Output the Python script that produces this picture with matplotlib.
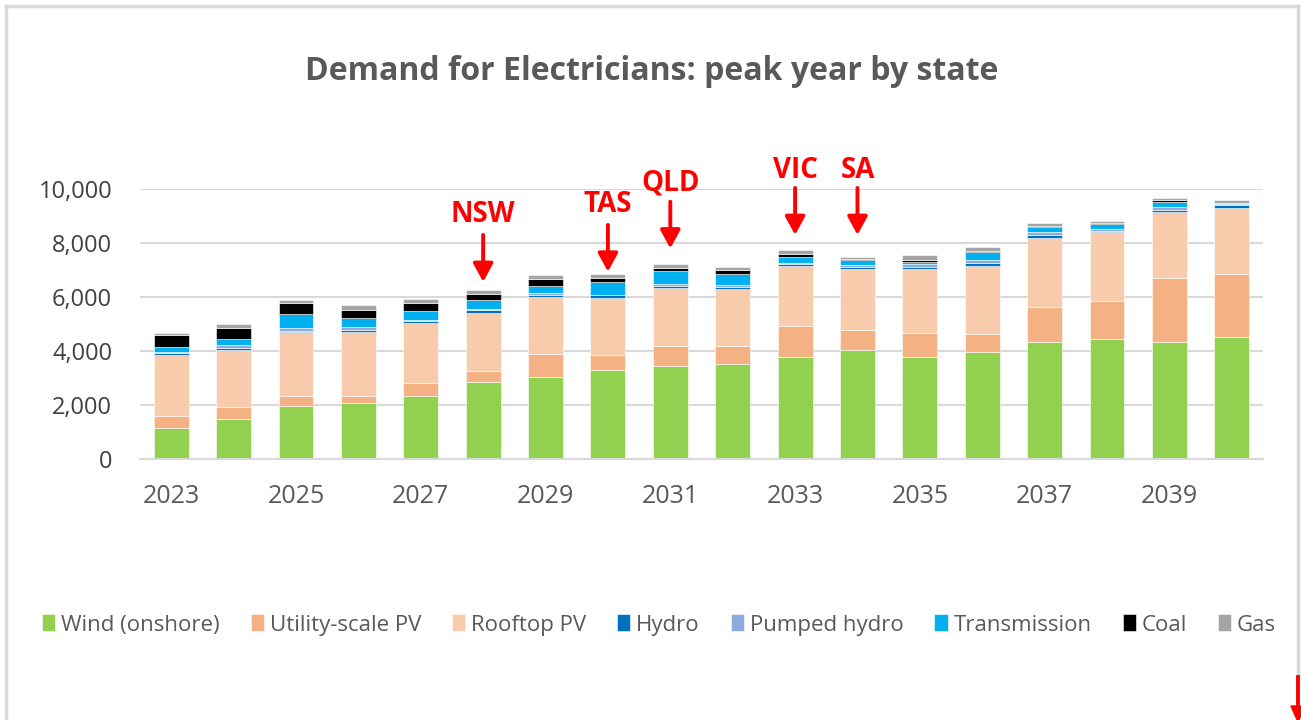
import matplotlib
matplotlib.use("Agg")
import matplotlib.pyplot as plt
import numpy as np
from matplotlib.lines import Line2D
from matplotlib.patches import Polygon
from matplotlib.ticker import FuncFormatter

# stacked demand by technology, 2023-2040
years = list(range(2023, 2041))
wind = [1140, 1470, 1970, 2070, 2350, 2870, 3050, 3300, 3450, 3510, 3790, 4040, 3790, 3950, 4340, 4430, 4340, 4530]
utility_pv = [470, 440, 380, 280, 460, 385, 850, 540, 750, 690, 1150, 740, 890, 690, 1280, 1440, 2380, 2340]
rooftop_pv = [2250, 2125, 2340, 2340, 2230, 2155, 2090, 2110, 2150, 2110, 2210, 2260, 2360, 2510, 2570, 2520, 2440, 2440]
hydro = [50, 60, 60, 100, 70, 120, 70, 110, 70, 70, 70, 70, 70, 110, 110, 70, 70, 110]
pumped_hydro = [40, 120, 90, 100, 50, 20, 70, 25, 50, 50, 50, 70, 100, 100, 100, 50, 110, 30]
transmission = [200, 230, 530, 350, 320, 330, 290, 470, 500, 420, 230, 190, 100, 310, 180, 180, 180, 20]
coal = [445, 396, 408, 297, 297, 247, 247, 160, 99, 148, 87, 40, 70, 50, 60, 60, 60, 0]
gas = [87, 148, 99, 149, 161, 149, 148, 149, 148, 99, 160, 86, 165, 123, 101, 76, 100, 130]

series_names = ["Wind (onshore)", "Utility-scale PV", "Rooftop PV", "Hydro",
                "Pumped hydro", "Transmission", "Coal", "Gas"]
series_colors = ["#92d050", "#f4b183", "#f8cbad", "#0070c0",
                 "#8faadc", "#00b0f0", "#000000", "#a5a5a5"]

# peak year per state: (label, year, label height, arrow tail, arrow tip)
peak_labels = ["NSW", "TAS", "QLD", "VIC", "SA"]
peak_years = [2028, 2030, 2031, 2033, 2034]
peak_text_y = [9040, 9410, 10220, 10700, 10700]
peak_tail_y = [8300, 8670, 9530, 10040, 10040]
peak_tip_y = [6560, 6940, 7800, 8300, 8300]

W, H = 1301, 720
fig = plt.figure(figsize=(W / 100, H / 100), dpi=100)
ax = fig.add_axes([140 / W, 1 - 459 / H, (1263 - 140) / W, 270 / H])

x = np.arange(len(years))
bottom = np.zeros(len(years))
for name, vals, col in zip(series_names,
                           [wind, utility_pv, rooftop_pv, hydro, pumped_hydro, transmission, coal, gas],
                           series_colors):
    ax.bar(x, vals, bottom=bottom, width=0.56, color=col, label=name,
           edgecolor="white", linewidth=0.4)
    bottom += np.array(vals)

ax.set_xlim(-0.5, len(years) - 0.5)
ax.set_ylim(0, 10000)
ax.set_yticks(np.arange(0, 10001, 2000))
ax.yaxis.set_major_formatter(FuncFormatter(lambda v, p: f"{int(v):,}"))
ax.set_xticks(x[::2])
ax.set_xticklabels([str(y) for y in years[::2]])
ax.grid(axis="y", color="#d9d9d9", linewidth=1.5)
ax.set_axisbelow(True)
for s in ["top", "right", "left"]:
    ax.spines[s].set_visible(False)
ax.spines["bottom"].set_color("#d9d9d9")
ax.spines["bottom"].set_linewidth(1.5)
ax.tick_params(axis="y", length=0, pad=20, labelsize=17, labelcolor="#404040")
ax.tick_params(axis="x", length=0, pad=18, labelsize=18, labelcolor="#595959")
for lab in ax.get_yticklabels() + ax.get_xticklabels():
    lab.set_family("Open Sans")

# state peak markers
for lab, yr, ty, tail, tip in zip(peak_labels, peak_years, peak_text_y, peak_tail_y, peak_tip_y):
    xi = years.index(yr)
    ax.annotate("", xy=(xi, tip), xytext=(xi, tail), annotation_clip=False,
                arrowprops=dict(arrowstyle="-|>,head_length=0.55,head_width=0.3",
                                color="red", lw=2.8, mutation_scale=20,
                                shrinkA=0, shrinkB=0))
    ax.text(xi, ty, lab, color="red", fontsize=20, fontweight="bold",
            family="Open Sans", ha="center", va="center", clip_on=False)

fig.text(652 / W, 1 - 71 / H, "Demand for Electricians: peak year by state",
         ha="center", va="center", fontsize=23, fontweight="bold",
         color="#595959", family="Open Sans")

leg = fig.legend(loc="center", bbox_to_anchor=(659 / W, 1 - 625 / H), ncol=8,
                 frameon=False, handlelength=0.6, handleheight=0.8,
                 handletextpad=0.25, columnspacing=1.4,
                 prop={"family": "Open Sans", "size": 16})
for t in leg.get_texts():
    t.set_color("#595959")

# chart frame
fig.add_artist(Line2D([6 / W, 6 / W], [0, 1 - 6 / H], transform=fig.transFigure,
                      color="#d9d9d9", linewidth=2.5))
fig.add_artist(Line2D([6 / W, 1298 / W], [1 - 6 / H, 1 - 6 / H], transform=fig.transFigure,
                      color="#d9d9d9", linewidth=2.5))
fig.add_artist(Line2D([1298 / W, 1298 / W], [1 - 6 / H, 1 - 677 / H], transform=fig.transFigure,
                      color="#d9d9d9", linewidth=2.5))
fig.add_artist(Line2D([1298 / W, 1298 / W], [1 - 677 / H, 1 - 708 / H], transform=fig.transFigure,
                      color="red", linewidth=2.8))
fig.add_artist(Polygon([[1291 / W, 1 - 706 / H], [1305 / W, 1 - 706 / H], [1298 / W, 1 - 722 / H]],
                       closed=True, transform=fig.transFigure, color="red"))

fig.savefig("out.png", dpi=100)
